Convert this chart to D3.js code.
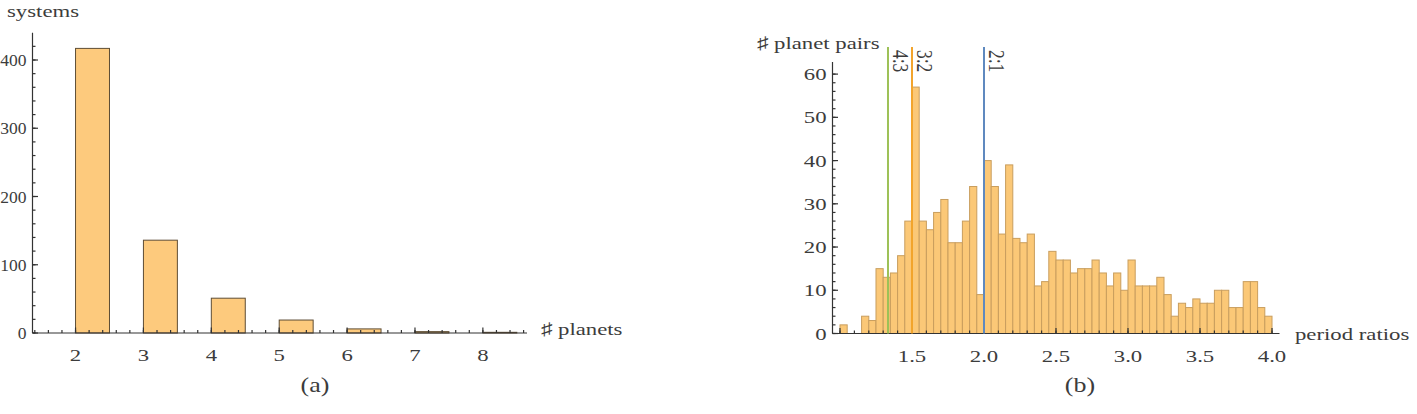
<!DOCTYPE html>
<html>
<head>
<meta charset="utf-8">
<script src="https://cdn.jsdelivr.net/npm/d3@7"></script>
<style>
    body { margin: 0; background: #fff; }
    svg { display: block; }
</style>
</head>
<body>
<svg id="chart" width="1417" height="414"></svg>
<script>
// -----
// DATA
// -----

// (a) multiplicity of systems
const planetCounts = [2, 3, 4, 5, 6, 7, 8];
const systemCounts = [417, 136, 51, 19, 6, 2, 1];

// (b) period ratios of adjacent planet pairs, bins of width 0.05
const ratioBins = [
    1.00, 1.05, 1.10, 1.15, 1.20, 1.25, 1.30, 1.35, 1.40, 1.45,
    1.50, 1.55, 1.60, 1.65, 1.70, 1.75, 1.80, 1.85, 1.90, 1.95,
    2.00, 2.05, 2.10, 2.15, 2.20, 2.25, 2.30, 2.35, 2.40, 2.45,
    2.50, 2.55, 2.60, 2.65, 2.70, 2.75, 2.80, 2.85, 2.90, 2.95,
    3.00, 3.05, 3.10, 3.15, 3.20, 3.25, 3.30, 3.35, 3.40, 3.45,
    3.50, 3.55, 3.60, 3.65, 3.70, 3.75, 3.80, 3.85, 3.90, 3.95
];
const pairCounts = [
    2, 0, 0, 4, 3, 15, 13, 14, 18, 26,
    57, 26, 24, 28, 31, 21, 21, 26, 34, 9,
    40, 34, 23, 39, 22, 21, 23, 11, 12, 19,
    17, 17, 14, 15, 15, 17, 14, 11, 14, 10,
    17, 11, 11, 11, 13, 9, 4, 7, 6, 8,
    7, 7, 10, 10, 6, 6, 12, 12, 6, 4
];
const binWidth = 0.05;

const resonanceLabels = ["4:3", "3:2", "2:1"];
const resonanceValues = [4 / 3, 3 / 2, 2];
const resonanceColors = ["#9dc157", "#f2a42c", "#5f89bf"];

const xTicksA = [2, 3, 4, 5, 6, 7, 8];
const yTicksA = [0, 100, 200, 300, 400];
const xTicksB = [1.5, 2.0, 2.5, 3.0, 3.5, 4.0];
const yTicksB = [0, 10, 20, 30, 40, 50, 60];

// -----
// HELPERS
// -----

const svg = d3.select("#chart");
const SERIF = "'Liberation Serif', 'Times New Roman', 'DejaVu Serif', serif";
const STRETCH = 1.3;   // the source figure is widened horizontally
const FONT = 17.5;

function label(g, x, y, str, anchor = "start", rotate = 0, stretch = STRETCH, size = FONT) {
    const t = g.append("g")
        .attr("transform", `translate(${x},${y}) rotate(${rotate}) scale(${rotate ? 1 : stretch},${rotate ? stretch : 1})`);
    t.append("text")
        .attr("font-family", SERIF)
        .attr("font-size", size)
        .attr("fill", "#3c3c3c")
        .attr("text-anchor", anchor)
        .text(str);
    return t;
}

function drawAxes(g, xScale, yScale, opts) {
    const { xMajor, xMinor, yMajor, yMinor, x0, y0, xLabels, yLabels, fmt, yStretch = STRETCH } = opts;
    const axis = g.append("g").attr("stroke", "#333").attr("stroke-width", 1.2);
    const [xa, xb] = xScale.range();
    const [ya, yb] = yScale.range();

    axis.append("line").attr("x1", xa).attr("x2", xb).attr("y1", yScale(y0)).attr("y2", yScale(y0));
    axis.append("line").attr("x1", xScale(x0)).attr("x2", xScale(x0)).attr("y1", ya).attr("y2", yb);

    // inward ticks, Mathematica style
    axis.selectAll(null).data(xMinor).join("line")
        .attr("x1", d => xScale(d)).attr("x2", d => xScale(d))
        .attr("y1", yScale(y0)).attr("y2", yScale(y0) - 3);
    axis.selectAll(null).data(xMajor).join("line")
        .attr("x1", d => xScale(d)).attr("x2", d => xScale(d))
        .attr("y1", yScale(y0)).attr("y2", yScale(y0) - 5.5);
    axis.selectAll(null).data(yMinor).join("line")
        .attr("y1", d => yScale(d)).attr("y2", d => yScale(d))
        .attr("x1", xScale(x0)).attr("x2", xScale(x0) + 3);
    axis.selectAll(null).data(yMajor).join("line")
        .attr("y1", d => yScale(d)).attr("y2", d => yScale(d))
        .attr("x1", xScale(x0)).attr("x2", xScale(x0) + 5.5);

    xLabels.forEach(d => label(g, xScale(d), yScale(y0) + 28, fmt(d), "middle"));
    yLabels.forEach(d => label(g, xScale(x0) - 6, yScale(d) + 6, String(d), "end", 0, yStretch));
}

// -----
// (a) SYSTEMS BY NUMBER OF PLANETS
// -----

const gA = svg.append("g").attr("class", "panel-a");
const xA = d3.scaleLinear().domain([1.366, 8.65]).range([32.5, 527]);
const yA = d3.scaleLinear().domain([0, 440]).range([333, 32.7]);

gA.append("g")
    .attr("fill", "#fdca7d")
    .attr("stroke", "#5e4d35")
    .attr("stroke-width", 1)
  .selectAll("rect")
    .data(planetCounts)
    .join("rect")
    .attr("x", d => xA(d))
    .attr("width", d => xA(d + 0.5) - xA(d))
    .attr("y", (d, i) => yA(systemCounts[i]))
    .attr("height", (d, i) => yA(0) - yA(systemCounts[i]));

drawAxes(gA, xA, yA, {
    xMajor: xTicksA,
    xMinor: d3.range(1.4, 8.65, 0.2),
    yMajor: yTicksA,
    yMinor: d3.range(0, 440, 20),
    x0: 1.366, y0: 0,
    xLabels: xTicksA, yLabels: yTicksA,
    fmt: d => String(d),
    yStretch: 1.0   // keep the three-digit labels inside the page
});

label(gA, 7, 17, "systems");
label(gA, 541, 335, "\u266F planets");
label(gA, 315, 392, "(a)", "middle", 0, STRETCH, 20);

// -----
// (b) PERIOD RATIO HISTOGRAM
// -----

const gB = svg.append("g").attr("class", "panel-b");
const xB = d3.scaleLinear().domain([0.948, 4.052]).range([832.5, 1279.5]);
const yB = d3.scaleLinear().domain([0, 62.8]).range([333.5, 62]);

gB.append("g")
    .attr("fill", "#fbc877")
    .attr("stroke", "#c99e5e")
    .attr("stroke-width", 1)
  .selectAll("rect")
    .data(ratioBins)
    .join("rect")
    .attr("x", d => xB(d))
    .attr("width", d => xB(d + binWidth) - xB(d))
    .attr("y", (d, i) => yB(pairCounts[i]))
    .attr("height", (d, i) => yB(0) - yB(pairCounts[i]));

drawAxes(gB, xB, yB, {
    xMajor: [1.0, ...xTicksB],
    xMinor: d3.range(1.0, 4.01, 0.1),
    yMajor: yTicksB,
    yMinor: d3.range(0, 62, 2),
    x0: 0.948, y0: 0,
    xLabels: xTicksB, yLabels: yTicksB,
    fmt: d3.format(".1f")
});

// resonance markers
const res = gB.append("g").attr("class", "resonances");
res.selectAll("line")
    .data(resonanceValues)
    .join("line")
    .attr("x1", d => xB(d)).attr("x2", d => xB(d))
    .attr("y1", 47).attr("y2", yB(0))
    .attr("stroke", (d, i) => resonanceColors[i])
    .attr("stroke-width", 2);
resonanceValues.forEach((d, i) => label(res, xB(d) + 5, 50, resonanceLabels[i], "start", 90));

label(gB, 757, 49, "\u266F planet pairs");
label(gB, 1295, 340, "period ratios");
label(gB, 1080, 392, "(b)", "middle", 0, STRETCH, 20);
</script>
</body>
</html>
